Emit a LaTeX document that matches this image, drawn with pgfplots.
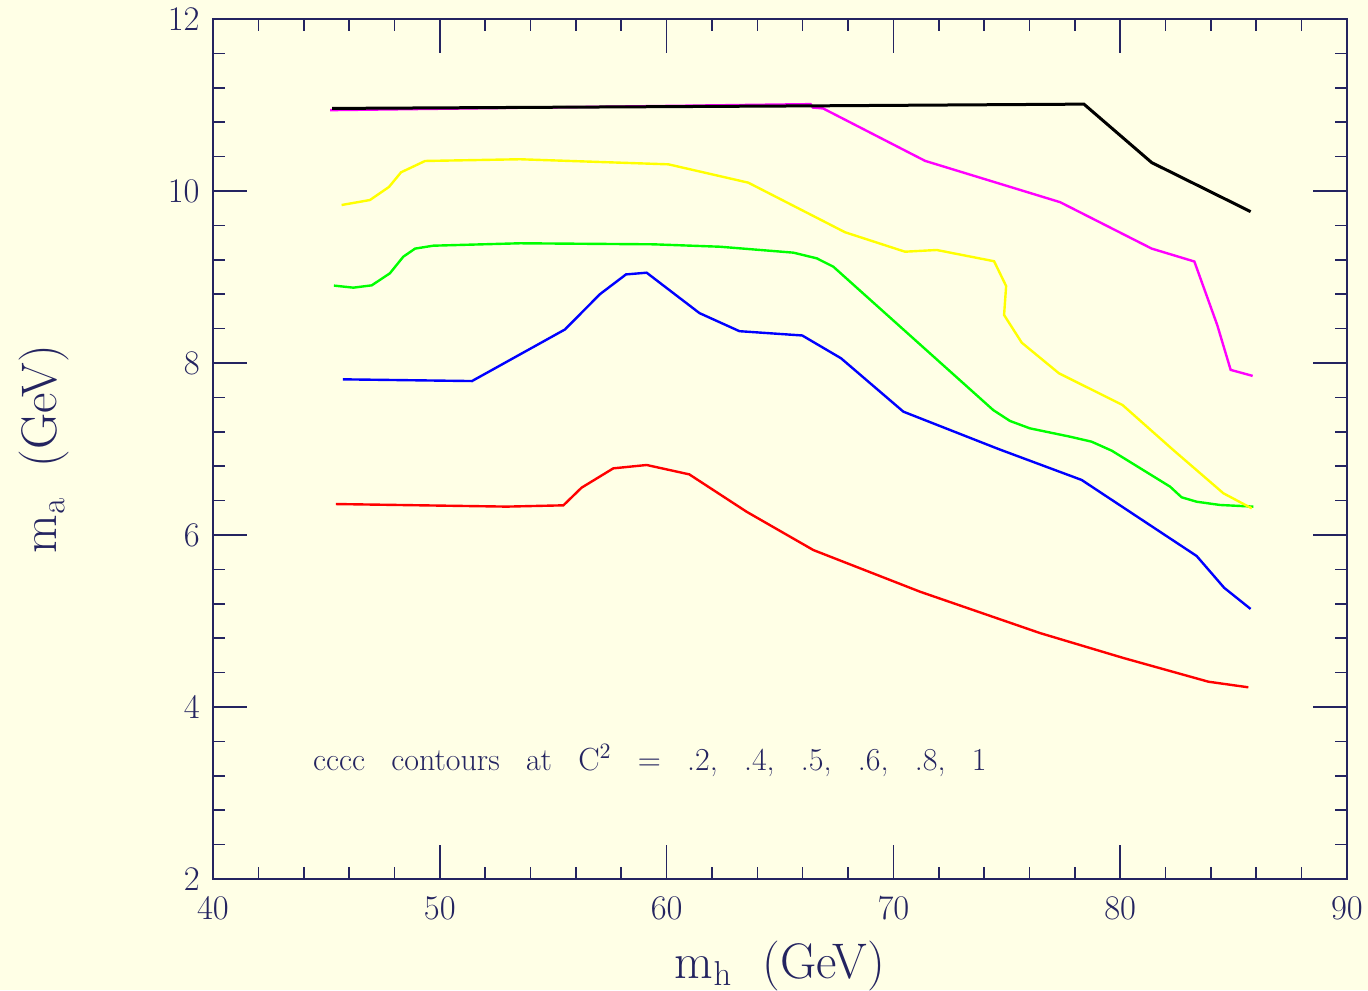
\documentclass[border=0pt]{standalone}
\usepackage{pgfplots}
\pgfplotsset{compat=1.18}
\definecolor{paper}{RGB}{255,255,230}
\definecolor{ink}{RGB}{36,36,96}
\definecolor{cRed}{RGB}{255,0,0}
\definecolor{cBlue}{RGB}{0,0,255}
\definecolor{cGreen}{RGB}{0,255,0}
\definecolor{cYellow}{RGB}{255,255,0}
\definecolor{cMagenta}{RGB}{255,0,255}

% contour lines (m_h, m_a) for each C^2 level
\pgfplotstableread{
x y
45.42 6.36
52.95 6.33
55.45 6.345
56.25 6.55
57.65 6.775
59.12 6.814
61.00 6.705
63.53 6.27
66.47 5.825
71.18 5.34
76.46 4.86
80.14 4.57
83.89 4.294
85.65 4.229
}\cred
\pgfplotstableread{
x y
45.73 7.81
51.42 7.79
55.52 8.39
57.06 8.80
58.21 9.03
59.12 9.05
61.45 8.58
63.21 8.37
65.98 8.32
67.69 8.055
70.44 7.434
74.63 7.00
78.30 6.64
83.37 5.756
84.58 5.387
85.75 5.14
}\cblue
\pgfplotstableread{
x y
45.33 8.90
46.19 8.876
47.00 8.903
47.80 9.043
48.39 9.236
48.91 9.33
49.71 9.364
53.54 9.392
59.41 9.38
62.35 9.352
65.59 9.283
66.62 9.217
67.35 9.12
74.40 7.453
75.14 7.326
76.02 7.24
77.79 7.143
78.74 7.085
79.63 6.98
82.20 6.562
82.71 6.438
83.37 6.387
84.40 6.349
85.87 6.33
}\cgreen
\pgfplotstableread{
x y
45.67 9.837
46.92 9.895
47.76 10.047
48.29 10.217
49.35 10.349
53.54 10.369
60.08 10.31
63.60 10.097
67.87 9.52
70.51 9.294
71.91 9.314
74.44 9.183
74.97 8.895
74.88 8.558
75.66 8.236
77.30 7.88
80.10 7.512
82.34 6.988
84.55 6.485
85.80 6.31
}\cyellow
\pgfplotstableread{
x y
45.16 10.94
66.35 11.01
66.45 10.97
66.90 10.96
71.40 10.35
77.35 9.87
81.39 9.33
83.27 9.18
84.28 8.44
84.87 7.92
85.84 7.85
}\cmagenta
\pgfplotstableread{
x y
45.25 10.96
66.50 10.99
78.40 11.01
81.39 10.33
85.75 9.76
}\cblack

\begin{document}
\begin{tikzpicture}
\fill[paper] (-106.5pt,-55.5pt) rectangle (577.5pt,439.5pt);
\begin{axis}[
  at={(0,0)}, anchor=south west,
  scale only axis, width=567pt, height=430pt,
  xmin=40, xmax=90, ymin=2, ymax=12,
  xtick={40,50,...,90}, ytick={2,4,...,12},
  minor x tick num=4, minor y tick num=4,
  tick align=inside,
  major tick length=17pt, minor tick length=6pt,
  axis line style={ink, line width=1pt},
  every tick/.style={ink, line width=0.8pt},
  tick label style={font=\fontsize{17}{20}\selectfont, text=ink, inner sep=0pt},
  xticklabel style={yshift=-9pt},
  yticklabel style={xshift=-6.5pt},
  axis background/.style={fill=paper},
  clip=false,
]
\addplot[cRed, line width=1.2pt] table {\cred};
\addplot[cBlue, line width=1.2pt] table {\cblue};
\addplot[cGreen, line width=1.2pt] table {\cgreen};
\addplot[cYellow, line width=1.2pt] table {\cyellow};
\addplot[cMagenta, line width=1.2pt] table {\cmagenta};
\addplot[black, line width=1.5pt] table {\cblack};
\node[anchor=base west, inner sep=0pt, text=ink, font=\fontsize{16}{19}\selectfont]
  at (axis cs:44.40,3.26) {\spaceskip=0.82em\relax cccc contours at C$^2$ = .2, .4, .5, .6, .8, 1};
\coordinate (bm) at (rel axis cs:0.5,0);
\coordinate (lm) at (rel axis cs:0,0.5);
\end{axis}
\node[anchor=base, inner sep=0pt, text=ink, font=\fontsize{25}{29}\selectfont]
  at ([yshift=-49.5pt]bm) {m$_\mathrm{h}$\ \ (GeV)};
\node[anchor=base, rotate=90, inner sep=0pt, text=ink, font=\fontsize{25}{29}\selectfont]
  at ([xshift=-78pt]lm) {m$_\mathrm{a}$\ \ (GeV)};
\pgfresetboundingbox
\path[use as bounding box] (-106.5pt,-55.5pt) rectangle (577.5pt,439.5pt);
\end{tikzpicture}
\end{document}
